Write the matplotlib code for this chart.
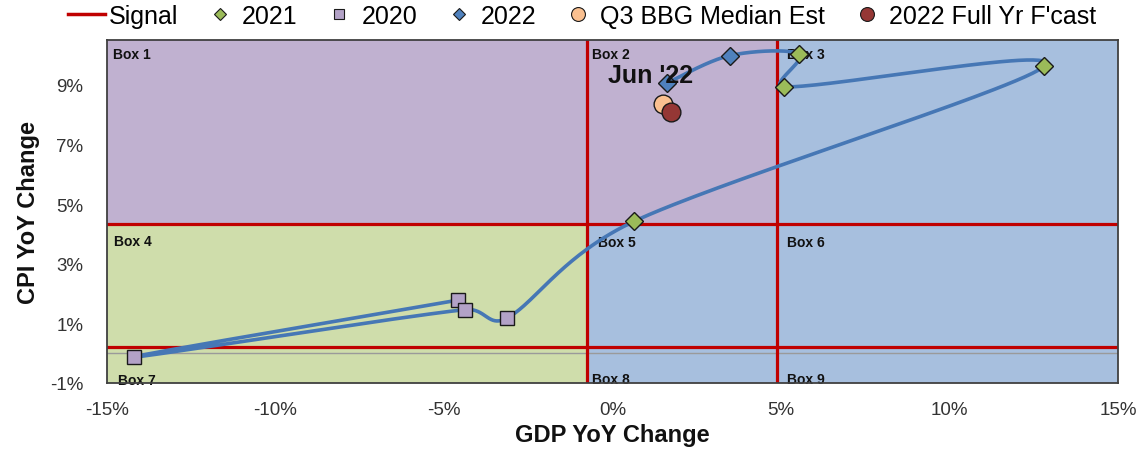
import numpy as np
import matplotlib
matplotlib.use("Agg")
import matplotlib.pyplot as plt
from matplotlib.lines import Line2D
from matplotlib.patches import Rectangle
from matplotlib.ticker import FuncFormatter

# Quarterly GDP / CPI year-over-year readings (%)
gdp_2020 = [-4.58, -14.21, -4.38, -3.14]
cpi_2020 = [1.78, -0.13, 1.46, 1.17]
gdp_2021 = [0.64, 12.81, 5.10, 5.54]
cpi_2021 = [4.42, 9.62, 8.93, 10.03]
gdp_2022 = [3.49, 1.61]
cpi_2022 = [9.98, 9.05]
q3_est_gdp, q3_est_cpi = [1.51], [8.34]
fy_gdp, fy_cpi = [1.73], [8.08]

# Signal thresholds splitting the plane into nine boxes
signal_gdp = [-0.77, 4.89]
signal_cpi = [0.2, 4.33]

x_ticks = [-15, -10, -5, 0, 5, 10, 15]
y_ticks = [-1, 1, 3, 5, 7, 9]
xlim = (-15, 15)
ylim = (-1, 10.5)

FONT = "Liberation Sans"
plt.rcParams["font.family"] = [FONT, "DejaVu Sans"]

W, H = 1142, 452
fig = plt.figure(figsize=(W / 100, H / 100), dpi=100)
ax = fig.add_axes([107 / W, 1 - 384 / H, (1118 - 107) / W, (384 - 41) / H])
ax.set_xlim(*xlim)
ax.set_ylim(*ylim)

PURPLE = "#C0B1D0"
GREEN = "#CFDDAB"
BLUE = "#A7BFDE"
RED = "#C00000"

lo_x, hi_x = signal_gdp
lo_y, hi_y = signal_cpi
regions = [
    ((xlim[0], hi_y), hi_x - xlim[0], ylim[1] - hi_y, PURPLE),
    ((hi_x, hi_y), xlim[1] - hi_x, ylim[1] - hi_y, BLUE),
    ((xlim[0], ylim[0]), lo_x - xlim[0], hi_y - ylim[0], GREEN),
    ((lo_x, ylim[0]), xlim[1] - lo_x, hi_y - ylim[0], BLUE),
]
for xy, w, h, c in regions:
    ax.add_patch(Rectangle(xy, w, h, facecolor=c, edgecolor="none", zorder=0))

ax.axhline(0, color="#9A9A9A", lw=1.0, zorder=1)
for v in signal_gdp:
    ax.axvline(v, color=RED, lw=2.3, zorder=2)
for v in signal_cpi:
    ax.axhline(v, color=RED, lw=2.3, zorder=2)

# Box labels, anchored to each box's upper-left corner
box_anchor = [
    ("Box 1", xlim[0], ylim[1], 6, -14),
    ("Box 2", lo_x, ylim[1], 5, -14),
    ("Box 3", hi_x, ylim[1], 10, -14),
    ("Box 4", xlim[0], hi_y, 7, -17),
    ("Box 5", lo_x, hi_y, 11, -18),
    ("Box 6", hi_x, hi_y, 10, -18),
    ("Box 7", xlim[0], lo_y, 11, -33),
    ("Box 8", lo_x, lo_y, 5, -32),
    ("Box 9", hi_x, lo_y, 10, -32),
]
for txt, bx, by, dx, dy in box_anchor:
    ax.annotate(txt, xy=(bx, by), xytext=(dx, dy), textcoords="offset pixels",
                ha="left", va="center", fontsize=10, fontweight="bold",
                color="#111111", zorder=2.5)

# Smoothed path through every quarter, in chronological order
path_x = np.array(gdp_2020 + gdp_2021 + gdp_2022, dtype=float)
path_y = np.array(cpi_2020 + cpi_2021 + cpi_2022, dtype=float)


def smooth_path(xs, ys, n=60):
    P = ax.transData.transform(np.column_stack([xs, ys]))
    out = []
    for i in range(len(P) - 1):
        p0 = P[i - 1] if i > 0 else P[i]
        p1, p2 = P[i], P[i + 1]
        p3 = P[i + 2] if i + 2 < len(P) else P[i + 1]
        d12 = np.linalg.norm(p2 - p1)
        d02 = np.linalg.norm(p2 - p0)
        d13 = np.linalg.norm(p3 - p1)
        f0 = 1 / 6 if d02 / 6 < d12 / 2 else (d12 / d02 / 2 if d02 > 0 else 0)
        f1 = 1 / 6 if d13 / 6 < d12 / 2 else (d12 / d13 / 2 if d13 > 0 else 0)
        c1 = p1 + f0 * (p2 - p0)
        c2 = p2 - f1 * (p3 - p1)
        t = np.linspace(0, 1, n)[:, None]
        seg = ((1 - t) ** 3) * p1 + 3 * ((1 - t) ** 2) * t * c1 \
            + 3 * (1 - t) * t ** 2 * c2 + t ** 3 * p2
        out.append(seg if i == 0 else seg[1:])
    pts = np.vstack(out)
    return ax.transData.inverted().transform(pts)


curve = smooth_path(path_x, path_y)
ax.plot(curve[:, 0], curve[:, 1], color="#4677B5", lw=2.6, zorder=3,
        solid_capstyle="round")

EDGE = "#1A1A1A"
ax.plot(gdp_2020, cpi_2020, ls="none", marker="s", ms=9.4, mfc="#B3A2C7",
        mec=EDGE, mew=1.0, zorder=4)
ax.plot(gdp_2021, cpi_2021, ls="none", marker="D", ms=9.0, mfc="#9BBB59",
        mec=EDGE, mew=1.0, zorder=4)
ax.plot(gdp_2022, cpi_2022, ls="none", marker="D", ms=9.0, mfc="#4F81BD",
        mec=EDGE, mew=1.0, zorder=4)
ax.plot(q3_est_gdp, q3_est_cpi, ls="none", marker="o", ms=13.5, mfc="#FAC090",
        mec=EDGE, mew=1.0, zorder=4)
ax.plot(fy_gdp, fy_cpi, ls="none", marker="o", ms=13.5, mfc="#953735",
        mec=EDGE, mew=1.0, zorder=4)

ax.annotate("Jun '22", xy=(gdp_2022[-1], cpi_2022[-1]), xytext=(-59, 8),
            textcoords="offset pixels", ha="left", va="center",
            fontsize=18, fontweight="bold", color="#111111", zorder=5)

# Axes styling
for s in ax.spines.values():
    s.set_color("#404040")
    s.set_linewidth(1.3)
    s.set_zorder(6)
ax.set_xticks(x_ticks)
ax.set_yticks(y_ticks)
pct = FuncFormatter(lambda v, _: f"{v:.0f}%")
ax.xaxis.set_major_formatter(pct)
ax.yaxis.set_major_formatter(pct)
ax.tick_params(axis="both", length=0, labelsize=13.5, labelcolor="#333333")
ax.tick_params(axis="x", pad=13)
ax.tick_params(axis="y", pad=17)

ax.set_xlabel("GDP YoY Change", fontsize=17, fontweight="bold", color="#111111")
ax.set_ylabel("CPI YoY Change", fontsize=17, fontweight="bold", color="#111111")
ax.xaxis.set_label_coords(0.5, -0.118)
ax.yaxis.set_label_coords(-0.066, 0.5)

# Legend across the top
handles = [
    Line2D([], [], color=RED, lw=2.5),
    Line2D([], [], ls="none", marker="D", ms=6.5, mfc="#9BBB59", mec=EDGE, mew=0.8),
    Line2D([], [], ls="none", marker="s", ms=7.5, mfc="#B3A2C7", mec=EDGE, mew=0.8),
    Line2D([], [], ls="none", marker="D", ms=6.5, mfc="#4F81BD", mec=EDGE, mew=0.8),
    Line2D([], [], ls="none", marker="o", ms=10, mfc="#FAC090", mec=EDGE, mew=0.8),
    Line2D([], [], ls="none", marker="o", ms=10, mfc="#953735", mec=EDGE, mew=0.8),
]
labels = ["Signal", "2021", "2020", "2022", "Q3 BBG Median Est", "2022 Full Yr F'cast"]
fig.legend(handles, labels, loc="center", bbox_to_anchor=(582 / W, 1 - 17 / H),
           ncol=6, frameon=False, fontsize=18, handlelength=1.5,
           handletextpad=0.15, columnspacing=0.9, borderpad=0, borderaxespad=0)

fig.savefig("out.png", dpi=100)
